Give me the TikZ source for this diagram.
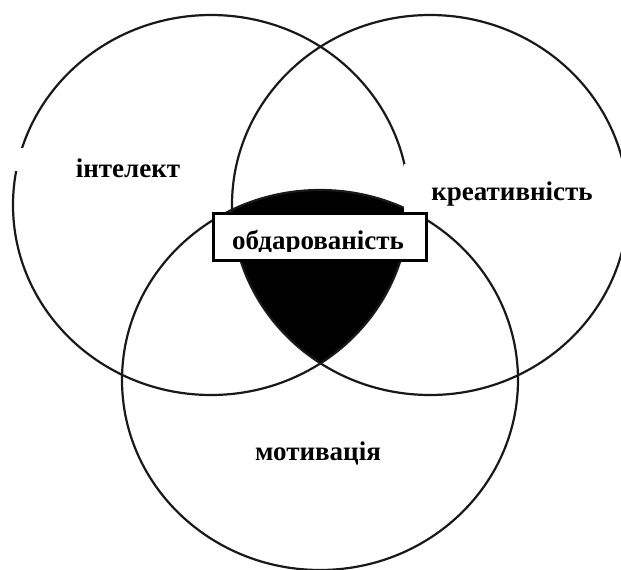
\documentclass[tikz,border=0pt]{standalone}
\usepackage{fontspec}
\setmainfont{Liberation Serif}
\usepackage{tikz}

\begin{document}
\begin{tikzpicture}[x=1pt,y=-1pt]
    \tikzset{
      ring/.style={draw=black!90, line width=2.2pt},
      word/.style={font=\fontsize{27}{30}\selectfont\bfseries, inner sep=0pt, anchor=base},
      mask/.style={fill=white, draw=none}
    }
    \useasboundingbox (0,0) rectangle (621,570);
    \clip (0,0) rectangle (621,570);
    % common part of the three circles
    \begin{scope}
      \clip (211,205) ellipse [x radius=198pt, y radius=190pt];
      \clip (430,205) ellipse [x radius=198pt, y radius=190pt];
      \fill[black] (320,380) ellipse [x radius=198pt, y radius=190pt];
    \end{scope}
    \draw[ring] (211,205) ellipse [x radius=198pt, y radius=190pt];
    \draw[ring] (430,205) ellipse [x radius=198pt, y radius=190pt];
    \draw[ring] (320,380) ellipse [x radius=198pt, y radius=190pt];
    % white patches behind the labels
    \fill[mask] (5,148) rectangle (70,171);
    \fill[mask] (404,164) rectangle (621,213);
    \node[word] (intel) at (128,177) {інтелект};
    \node[word] (creat) at (512,200) {креативність};
    \node[word] (motiv) at (318,460) {мотивація};
    \node[draw, fill=white, line width=2.2pt, minimum width=213pt, minimum height=47pt, inner sep=0pt] (gift) at (320,237) {};
    \begin{scope}
      \clip (214,215) rectangle (426,251);
      \node[word] (gifttxt) at (318,249) {обдарованість};
    \end{scope}
\end{tikzpicture}
\end{document}
